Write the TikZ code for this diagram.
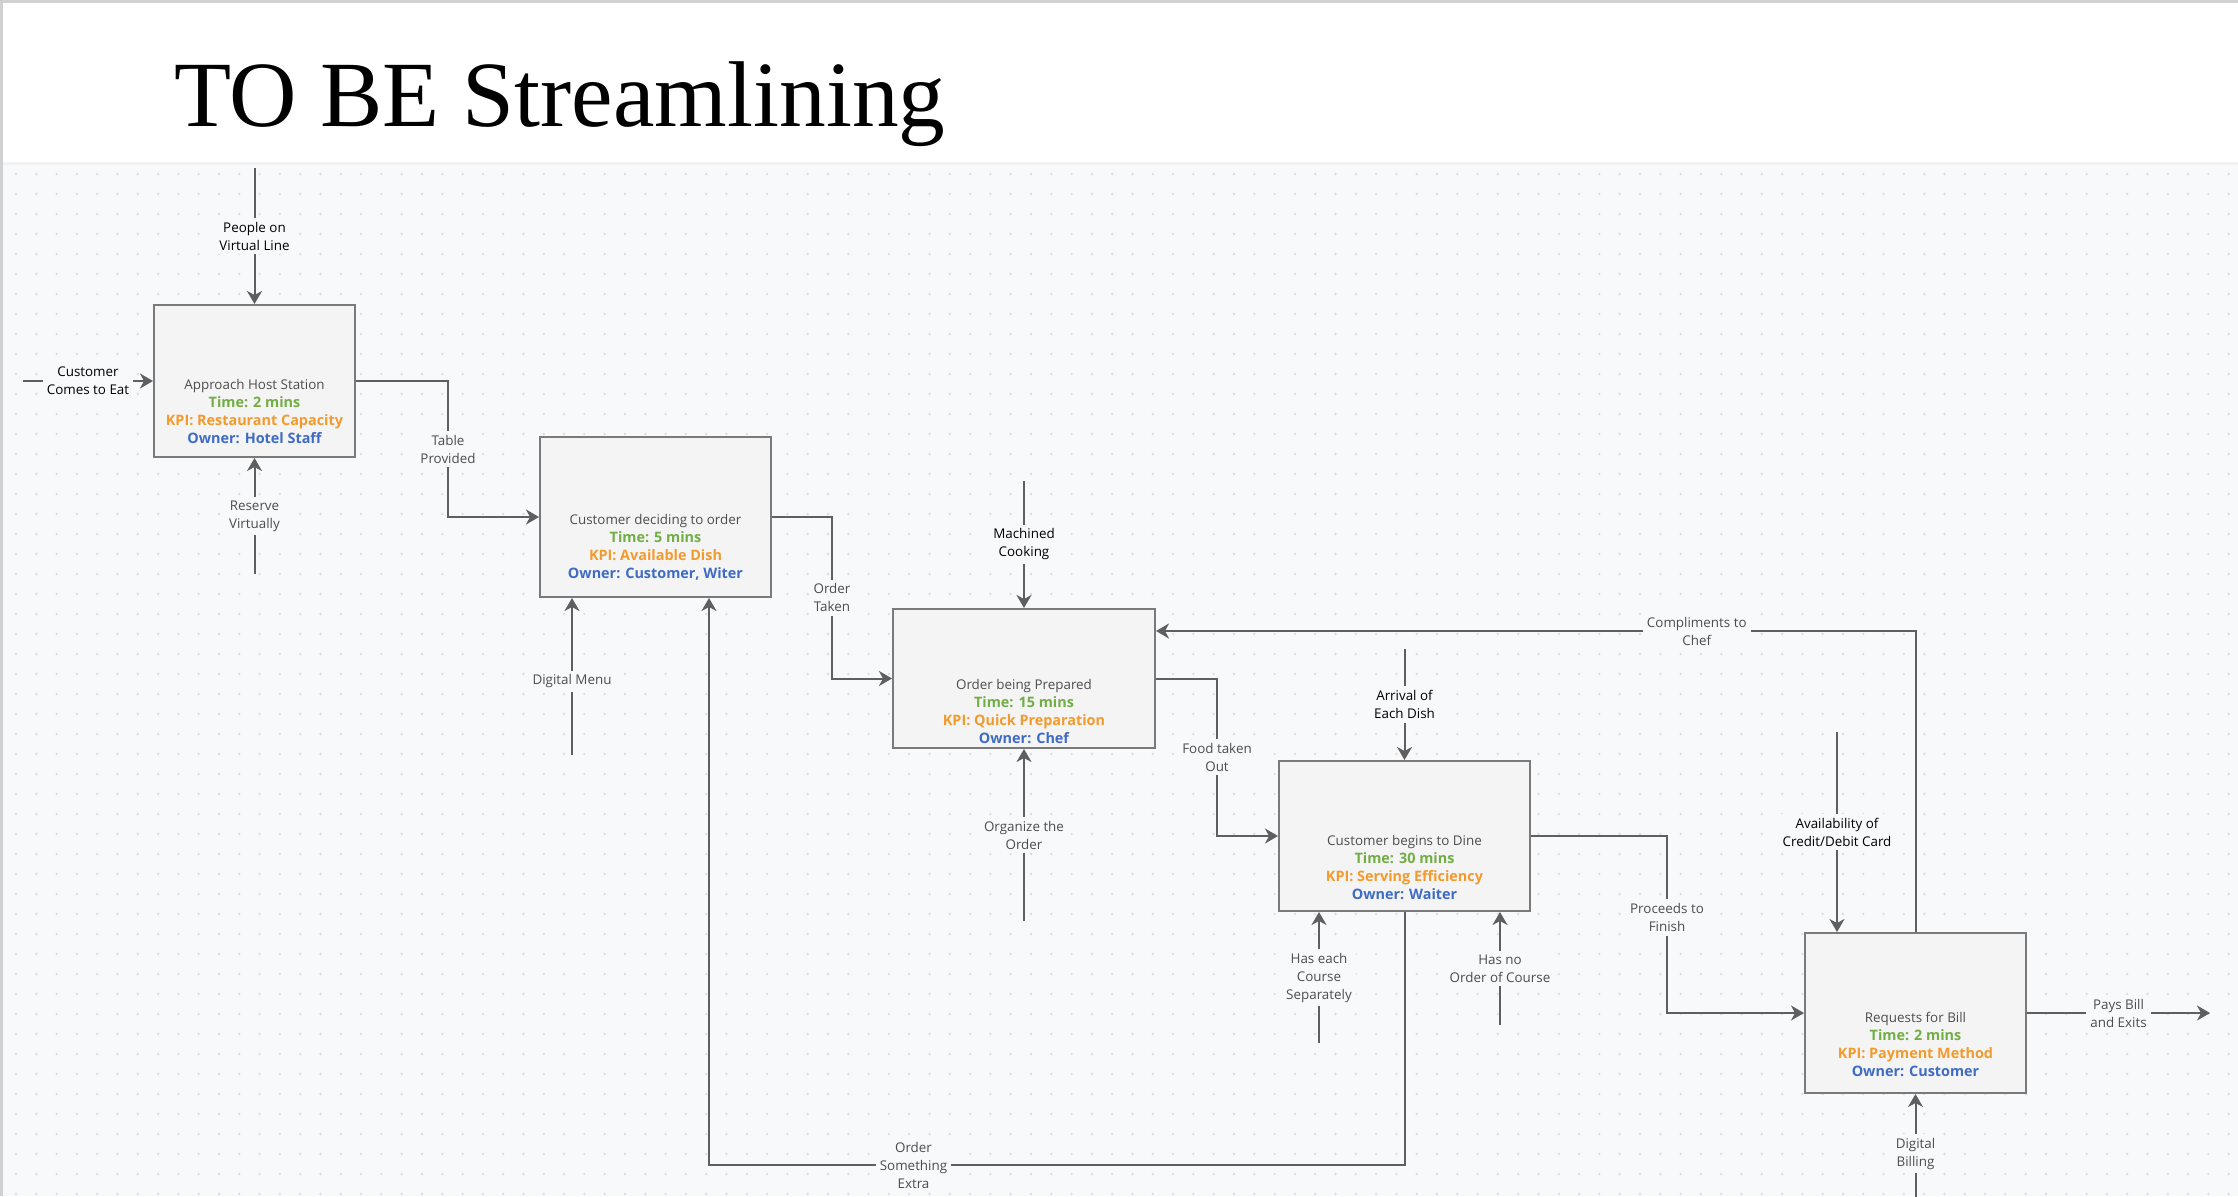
\documentclass[tikz,border=0pt]{standalone}
\usepackage{fontspec}
\setmainfont{Open Sans}
\newfontfamily\titlefont{Liberation Serif}
\usetikzlibrary{arrows.meta,positioning}

\definecolor{canvas}{HTML}{F8F9FB}
\definecolor{dotgray}{HTML}{DADBE0}
\definecolor{boxfill}{HTML}{F4F4F4}
\definecolor{boxline}{HTML}{7A7A7A}
\definecolor{linegray}{HTML}{5F5F5F}
\definecolor{textgray}{HTML}{4D4D4D}
\definecolor{timegreen}{HTML}{72AD45}
\definecolor{kpiorange}{HTML}{F39A2C}
\definecolor{ownerblue}{HTML}{3F6BC4}

\tikzset{
    procbox/.style={draw=boxline, fill=boxfill, line width=1pt, inner sep=0pt},
    proctext/.style={align=center, font=\fontsize{6.7}{9}\selectfont, text=textgray, inner sep=0pt},
    flowlbl/.style={align=center, font=\fontsize{6.7}{9}\selectfont, text=textgray, fill=canvas, inner sep=2pt},
    ctrllbl/.style={flowlbl, text=black},
    flow/.style={draw=linegray, line width=1pt, -{Stealth[length=6.5pt,width=7.5pt,inset=2pt]}},
    dotrow/.style={dotgray, line width=1.3pt, line cap=round, dash pattern=on 0pt off 10.15pt},
}

% intitulé, durée, KPI et responsable d'une étape
\newcommand{\procstep}[4]{#1\\{\fontsize{7.2}{9}\selectfont\bfseries\color{timegreen}Time: #2}\\{\fontsize{7.2}{9}\selectfont\bfseries\color{kpiorange}KPI: #3}\\{\fontsize{7.2}{9}\selectfont\bfseries\color{ownerblue}Owner: #4}}

\begin{document}
\begin{tikzpicture}[x=0.5pt, y=-0.5pt]
    \useasboundingbox (0,0) rectangle (2238,1196);

    % fond pointillé et bandeau du titre
    \fill[canvas] (0,0) rectangle (2238,1196);
    \foreach \r in {174,194,...,1194}
        \draw[dotrow] (16,\r) -- (2238,\r);
    \fill[black!5] (0,162) rectangle (2238,165);
    \fill[white] (0,0) rectangle (2238,162);
    \draw[black!18, line width=1.5pt] (0,1) -- (2238,1);
    \draw[black!18, line width=1.5pt] (1,0) -- (1,1196);
    \node[anchor=base west, font=\titlefont\fontsize{46.7}{50}\selectfont] (title) at (167,126) {TO BE Streamlining};

    % les cinq étapes
    \node[procbox, minimum width=100.5pt, minimum height=76pt] (host) at (254.5,381) {};
    \node[proctext] (hosttxt) at (254.5,411) {\procstep{Approach Host Station}{2 mins}{Restaurant Capacity}{Hotel Staff}};

    \node[procbox, minimum width=115.5pt, minimum height=80pt] (decide) at (655.5,517) {};
    \node[proctext] (decidetxt) at (655.5,547) {\procstep{Customer deciding to order}{5 mins}{Available Dish}{Customer, Witer}};

    \node[procbox, minimum width=131pt, minimum height=69.5pt] (prep) at (1024,678.5) {};
    \node[proctext] (preptxt) at (1024,711) {\procstep{Order being Prepared}{15 mins}{Quick Preparation}{Chef}};

    \node[procbox, minimum width=125.5pt, minimum height=75pt] (dine) at (1404.5,836) {};
    \node[proctext] (dinetxt) at (1404.5,867) {\procstep{Customer begins to Dine}{30 mins}{Serving Efficiency}{Waiter}};

    \node[procbox, minimum width=110.5pt, minimum height=80pt] (bill) at (1915.5,1013) {};
    \node[proctext] (billtxt) at (1915.5,1044.5) {\procstep{Requests for Bill}{2 mins}{Payment Method}{Customer}};

    % extrémités libres des flèches
    \coordinate (custstart) at (23,381);
    \coordinate (linestart) at (254.5,168);
    \coordinate (reservestart) at (254.5,574);
    \coordinate (menustart) at (572,755);
    \coordinate (cookstart) at (1024,481);
    \coordinate (organizestart) at (1024,921);
    \coordinate (dishstart) at (1404.5,649);
    \coordinate (coursestart) at (1319,1043);
    \coordinate (noorderstart) at (1500,1025);
    \coordinate (cardstart) at (1837,732);
    \coordinate (billingstart) at (1915.5,1213);
    \coordinate (exitend) at (2210,1013);

    % coudes des liaisons
    \coordinate (tablebend) at (448,517);
    \coordinate (takenbend) at (832,678.5);
    \coordinate (foodbend) at (1217,836);
    \coordinate (finishbend) at (1667,1013);
    \coordinate (extrabend) at (709,1165);

    % entrées et contrôles
    \draw[flow] (custstart) -- node[ctrllbl]{Customer\\Comes to Eat} (host.west);
    \draw[flow] (linestart) -- node[ctrllbl]{People on\\Virtual Line} (host.north);
    \draw[flow] (reservestart) -- node[flowlbl]{Reserve\\Virtually} (host.south);
    \draw[flow] (menustart) -- node[flowlbl, pos=0.47]{Digital Menu} (menustart |- decide.south);
    \draw[flow] (cookstart) -- node[ctrllbl]{Machined\\Cooking} (prep.north);
    \draw[flow] (organizestart) -- node[flowlbl]{Organize the\\Order} (prep.south);
    \draw[flow] (dishstart) -- node[ctrllbl]{Arrival of\\Each Dish} (dine.north);
    \draw[flow] (coursestart) -- node[flowlbl]{Has each\\Course\\Separately} (coursestart |- dine.south);
    \draw[flow] (noorderstart) -- node[flowlbl]{Has no\\Order of Course} (noorderstart |- dine.south);
    \draw[flow] (cardstart) -- node[ctrllbl]{Availability of\\Credit/Debit Card} (cardstart |- bill.north);
    \draw[flow] (billingstart) -- node[flowlbl]{Digital\\Billing} (bill.south);

    % enchaînement des étapes
    \draw[flow] (host.east) -| node[flowlbl, pos=0.75]{Table\\Provided} (tablebend) -- (decide.west);
    \draw[flow] (decide.east) -| node[flowlbl, pos=0.75]{Order\\Taken} (takenbend) -- (prep.west);
    \draw[flow] (prep.east) -| node[flowlbl, pos=0.75]{Food taken\\Out} (foodbend) -- (dine.west);
    \draw[flow] (dine.east) -| node[flowlbl, pos=0.73]{Proceeds to\\Finish} (finishbend) -- (bill.west);
    \draw[flow] (bill.east) -- node[flowlbl]{Pays Bill\\and Exits} (exitend);

    % retours
    \draw[flow] (bill.north) |- node[flowlbl, pos=0.644]{Compliments to\\Chef} ([yshift=-11.5pt]prep.north east);
    \draw[flow] (dine.south) |- node[flowlbl, pos=0.853]{Order\\Something\\Extra} (extrabend) -- (extrabend |- decide.south);
\end{tikzpicture}
\end{document}
